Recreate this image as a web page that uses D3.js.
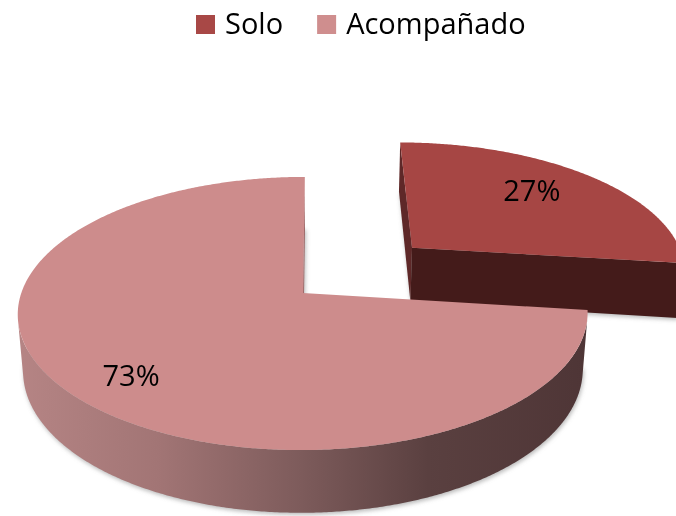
<!DOCTYPE html>
<html><head><meta charset="utf-8">
<script src="https://cdn.jsdelivr.net/npm/d3@7"></script>
<style>html,body{margin:0;padding:0;background:#fff;} svg{display:block;}</style>
</head><body>
<svg id="chart" width="676" height="516"></svg>
<script>
// ---- data ----
const categories = ["Solo", "Acompañado"];
const values = [27, 73];
const explodeBy = [0.54, 0];

// ---- styles ----
const topColors = ["#A64644", "#CD8C8C"];
const legendColors = ["#A84846", "#CF8E8E"];
const startFaceColors = ["#5E2828", "#B57878"];
const endFaceColors = ["#441B1A", "#9E6A6A"];

const W = 676, H = 516;
const svg = d3.select("#chart");
const defs = svg.append("defs");

// ---- 3D perspective projection ----
const cx = 303, cy = 293, Fx = 1662, Fy = 1694, D = 5.9, depth = 0.225, camX = 0.05;
const sinA = 0.465, cosA = Math.sqrt(1 - sinA * sinA);
const camPx = Fx * camX / D;
const cam = [camX, D * sinA, D * cosA];
function project(X, Y, Z) {
  const d = D - (Y * sinA + Z * cosA);
  const yc = Y * cosA - Z * sinA;
  return [cx + camPx + Fx * (X - camX) / d, cy - Fy * yc / d];
}
function disc(o, r, t, Y) { return [o[0] + r * Math.sin(t), Y, o[1] - r * Math.cos(t)]; }
function visible(p, n) {
  return (cam[0] - p[0]) * n[0] + (cam[1] - p[1]) * n[1] + (cam[2] - p[2]) * n[2] > 0;
}

const pie = d3.pie().sort(null).value(d => d);
const arcs = pie(values);
const line = d3.line();
const pathOf = pts => line(pts.map(p => project(p[0], p[1], p[2]))) + "Z";

const grad = defs.append("linearGradient").attr("id", "sideGrad")
  .attr("gradientUnits", "userSpaceOnUse").attr("x1", 13).attr("x2", 590).attr("y1", 0).attr("y2", 0);
[[0, "#B68585"], [0.25, "#A27575"], [0.5, "#7D5B5B"], [0.72, "#5A4040"], [1, "#4E3536"]]
  .forEach(s => grad.append("stop").attr("offset", s[0]).attr("stop-color", s[1]));
const sideFills = ["#441B1A", "url(#sideGrad)"];

defs.append("filter").attr("id", "blur").attr("x", "-20%").attr("y", "-20%").attr("width", "140%").attr("height", "140%")
  .append("feGaussianBlur").attr("stdDeviation", 2.2);

const slices = arcs.map((a, i) => {
  const mid = (a.startAngle + a.endAngle) / 2;
  const e = explodeBy[i];
  return { a, i, mid, o: [e * Math.sin(mid), -e * Math.cos(mid)] };
});

function arcPts(s, Y, from, to) {
  const n = Math.max(2, Math.ceil(Math.abs(to - from) / 0.008));
  return d3.range(n + 1).map(k => disc(s.o, 1, from + (to - from) * k / n, Y));
}

// shadows (bottom faces, blurred)
const gShadow = svg.append("g").attr("filter", "url(#blur)").attr("transform", "translate(1,2)");
slices.forEach(s => {
  const c = [s.o[0], -depth, s.o[1]];
  gShadow.append("path").attr("d", pathOf([c, ...arcPts(s, -depth, s.a.startAngle, s.a.endAngle)]))
    .attr("fill", "#8a8a8a").attr("opacity", 0.6);
});

// slices, far first
const order = slices.slice().sort((p, q) => project(p.o[0], 0, p.o[1])[1] - project(q.o[0], 0, q.o[1])[1]);
order.forEach(s => {
  const g = svg.append("g");
  const a0 = s.a.startAngle, a1 = s.a.endAngle;
  // outer side (only front-facing runs)
  const n = Math.ceil((a1 - a0) / 0.008);
  let run = [];
  const runs = [];
  for (let k = 0; k <= n; k++) {
    const t = a0 + (a1 - a0) * k / n;
    const p = disc(s.o, 1, t, 0);
    if (visible(p, [Math.sin(t), 0, -Math.cos(t)])) run.push(t);
    else if (run.length) { runs.push(run); run = []; }
  }
  if (run.length) runs.push(run);
  runs.forEach(r => {
    const topA = r.map(t => disc(s.o, 1, t, 0));
    const botA = r.slice().reverse().map(t => disc(s.o, 1, t, -depth));
    g.append("path").attr("d", pathOf([...topA, ...botA])).attr("fill", sideFills[s.i]);
  });
  // radial faces
  [[a0, a0 - Math.PI / 2, startFaceColors[s.i]], [a1, a1 + Math.PI / 2, endFaceColors[s.i]]].forEach(([t, nt, col]) => {
    const ct = [s.o[0], 0, s.o[1]], cb = [s.o[0], -depth, s.o[1]];
    const ot = disc(s.o, 1, t, 0), ob = disc(s.o, 1, t, -depth);
    const mp = [(ct[0] + ot[0]) / 2, -depth / 2, (ct[2] + ot[2]) / 2];
    if (visible(mp, [Math.sin(nt), 0, -Math.cos(nt)]))
      g.append("path").attr("d", pathOf([ct, ot, ob, cb])).attr("fill", col);
  });
  // top face
  g.append("path").attr("d", pathOf([[s.o[0], 0, s.o[1]], ...arcPts(s, 0, a0, a1)]))
    .attr("fill", topColors[s.i]);
});

// labels
const labelR = [0.7, 0.72];
const labelNudge = [[-6, -6], [-7, 13]];
slices.forEach(s => {
  const p = project(...disc(s.o, labelR[s.i], s.mid, 0));
  svg.append("text").attr("x", p[0] + labelNudge[s.i][0]).attr("y", p[1] + labelNudge[s.i][1])
    .attr("text-anchor", "middle").attr("dominant-baseline", "central")
    .attr("font-family", "'Open Sans', sans-serif").attr("font-size", 29).attr("fill", "#000")
    .text(values[s.i] + "%");
});

// legend
const lg = svg.append("g");
let lx = 196;
categories.forEach((c, i) => {
  lg.append("rect").attr("x", lx).attr("y", 15).attr("width", 19).attr("height", 19).attr("fill", legendColors[i]);
  const t = lg.append("text").attr("x", lx + 29).attr("y", 34)
    .attr("font-family", "'Open Sans', sans-serif").attr("font-size", 29).attr("fill", "#000").text(c);
  lx += 29 + t.node().getComputedTextLength() + 34;
});
</script>
</body></html>
